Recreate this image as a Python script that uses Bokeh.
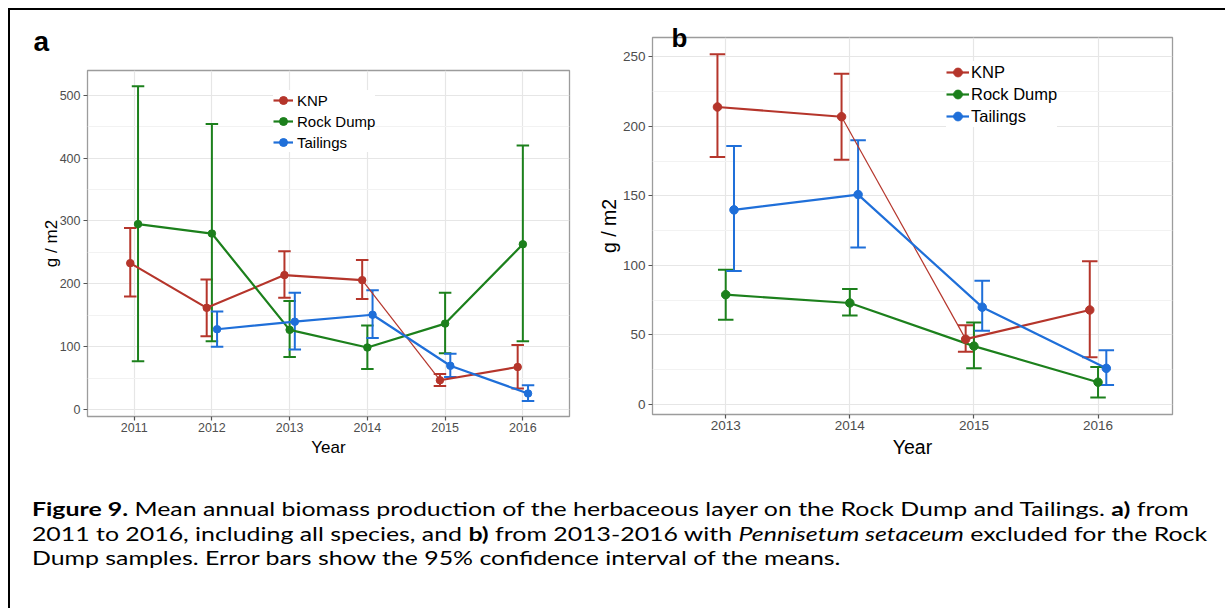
from bokeh.plotting import figure
from bokeh.models import (ColumnDataSource, Whisker, TeeHead, FixedTicker, Legend,
                          LegendItem, Div, Range1d, Spacer)
from bokeh.layouts import row, column
from bokeh.embed import file_html
from bokeh.resources import INLINE

# ---------------- data: panel a (2011-2016, all species) ----------------
series_names = ["KNP", "Rock Dump", "Tailings"]

knp_a_years = [2011, 2012, 2013, 2014, 2015, 2016]
knp_a_mean = [233, 162, 214, 206, 47, 68]
knp_a_lo = [180, 117, 178, 176, 38, 34]
knp_a_hi = [289, 207, 252, 238, 57, 103]

rock_a_years = [2011, 2012, 2013, 2014, 2015, 2016]
rock_a_mean = [295, 280, 127, 99, 137, 263]
rock_a_lo = [77, 109, 84, 65, 90, 109]
rock_a_hi = [514, 454, 173, 134, 186, 420]

tail_a_years = [2012, 2013, 2014, 2015, 2016]
tail_a_mean = [128, 140, 151, 70, 26]
tail_a_lo = [100, 96, 114, 52, 14]
tail_a_hi = [156, 186, 190, 89, 39]

# ---------------- data: panel b (2013-2016, Pennisetum excluded) ----------------
knp_b_years = [2013, 2014, 2015, 2016]
knp_b_mean = [214, 207, 47, 68]
knp_b_lo = [178, 176, 38, 34]
knp_b_hi = [252, 238, 57, 103]

rock_b_years = [2013, 2014, 2015, 2016]
rock_b_mean = [79, 73, 42, 16]
rock_b_lo = [61, 64, 26, 5]
rock_b_hi = [97, 83, 59, 27]

tail_b_years = [2013, 2014, 2015, 2016]
tail_b_mean = [140, 151, 70, 26]
tail_b_lo = [96, 113, 53, 14]
tail_b_hi = [186, 190, 89, 39]

ticks_a_x = [2011, 2012, 2013, 2014, 2015, 2016]
ticks_a_y = [0, 100, 200, 300, 400, 500]
minor_a_y = [50, 150, 250, 350, 450]
ticks_b_x = [2013, 2014, 2015, 2016]
ticks_b_y = [0, 50, 100, 150, 200, 250]
minor_b_y = [25, 75, 125, 175, 225]

caption_html = ("<b>Figure 9.</b> Mean annual biomass production of the herbaceous layer on the "
                "Rock Dump and Tailings. <b>a)</b> from<br>2011 to 2016, including all species, and "
                "<b>b)</b> from 2013-2016 with <i>Pennisetum setaceum</i> excluded for the Rock<br>"
                "Dump samples. Error bars show the 95% confidence interval of the means.")

COLORS = ["#b5352b", "#1c801c", "#1f6fd9"]
FONT = "Liberation Sans"


def dodge(groups_years, width=0.2):
    out = []
    for gi, ys in enumerate(groups_years):
        xs = []
        for y in ys:
            present = [g for g, yy in enumerate(groups_years) if y in yy]
            n = len(present)
            i = present.index(gi)
            xs.append(y - width / 2 + width / (2 * n) + i * width / n)
        out.append(xs)
    return out


def make_panel(data, xr, yr, xt, yt, ymin, w, h, mb, fs, cap, psize, leg, tag, ylab_standoff):
    p = figure(width=w, height=h, output_backend="svg", toolbar_location=None,
               x_range=Range1d(*xr), y_range=Range1d(*yr),
               min_border_left=mb[0], min_border_right=mb[1],
               min_border_top=mb[2], min_border_bottom=mb[3])
    p.background_fill_color = "white"
    p.border_fill_color = "white"
    p.outline_line_color = "#9c9c9c"
    p.outline_line_width = 1.3

    p.xaxis.ticker = FixedTicker(ticks=xt)
    p.yaxis.ticker = FixedTicker(ticks=yt, minor_ticks=ymin)
    for ax in (p.xaxis[0], p.yaxis[0]):
        ax.axis_line_color = None
        ax.major_tick_line_color = "#555555"
        ax.major_tick_line_width = 1.2
        ax.major_tick_in = 0
        ax.major_tick_out = 4
        ax.minor_tick_line_color = None
        ax.major_label_text_font = FONT
        ax.major_label_text_font_size = fs[0]
        ax.major_label_text_color = "#4d4d4d"
        ax.axis_label_text_font = FONT
        ax.axis_label_text_font_style = "normal"
        ax.axis_label_text_font_size = fs[1]
        ax.axis_label_text_color = "black"
        ax.major_label_standoff = 3
    p.xaxis.axis_label = "Year"
    p.yaxis.axis_label = "g / m2"
    p.xaxis.major_label_standoff = 2
    p.xaxis.axis_label_standoff = 3
    try:
        p.yaxis.axis_label_standoff = ylab_standoff
    except Exception:
        p.yaxis.axis_label_standoff = 0

    p.xgrid.grid_line_color = "#e6e6e6"
    p.xgrid.grid_line_width = 1.2
    p.ygrid.grid_line_color = "#e6e6e6"
    p.ygrid.grid_line_width = 1.2
    p.ygrid.minor_grid_line_color = "#f2f2f2"
    p.ygrid.minor_grid_line_width = 1.0

    xs_all = dodge([d[0] for d in data])
    for k, d in enumerate(data):
        src = ColumnDataSource(dict(x=xs_all[k], lo=d[2], hi=d[3]))
        wh = Whisker(base="x", lower="lo", upper="hi", source=src,
                     line_color=COLORS[k], line_width=2,
                     upper_head=TeeHead(size=cap, line_color=COLORS[k], line_width=2),
                     lower_head=TeeHead(size=cap, line_color=COLORS[k], line_width=2))
        p.add_layout(wh)
    line_rs = []
    for k, d in enumerate(data):
        xs = xs_all[k]
        ys = d[1]
        if k == 0 and 2014 in d[0] and 2015 in d[0]:
            j = d[0].index(2014)
            r = p.line(xs[:j + 1], ys[:j + 1], line_color=COLORS[k], line_width=2.2)
            p.line(xs[j:j + 2], ys[j:j + 2], line_color=COLORS[k], line_width=1.2)
            p.line(xs[j + 1:], ys[j + 1:], line_color=COLORS[k], line_width=2.2)
        else:
            r = p.line(xs, ys, line_color=COLORS[k], line_width=2.2)
        line_rs.append(r)
    pt_rs = []
    for k, d in enumerate(data):
        pr = p.scatter(xs_all[k], d[1], size=psize, color=COLORS[k])
        pt_rs.append(pr)
    items = [LegendItem(label=series_names[k], renderers=[line_rs[k], pt_rs[k]])
             for k in range(len(data))]

    legend = Legend(items=items, location=leg[0], padding=4, margin=0, spacing=leg[1],
                    glyph_width=leg[2], glyph_height=leg[3], label_height=leg[3],
                    label_standoff=leg[4], label_text_font=FONT,
                    label_text_font_size=leg[5], label_text_color="black",
                    background_fill_color="white", background_fill_alpha=1.0,
                    border_line_color=None)
    p.add_layout(legend)

    # panel tag ("a" / "b") as the plot title
    p.title.text = tag[0]
    p.title.align = "left"
    p.title.offset = tag[1]
    p.title.text_font = FONT
    p.title.text_font_style = "bold"
    p.title.text_font_size = tag[3]
    p.title.text_color = "black"
    try:
        p.title.standoff = tag[2]
    except Exception:
        p.title.standoff = 0
    return p


data_a = [(knp_a_years, knp_a_mean, knp_a_lo, knp_a_hi),
          (rock_a_years, rock_a_mean, rock_a_lo, rock_a_hi),
          (tail_a_years, tail_a_mean, tail_a_lo, tail_a_hi)]
data_b = [(knp_b_years, knp_b_mean, knp_b_lo, knp_b_hi),
          (rock_b_years, rock_b_mean, rock_b_lo, rock_b_hi),
          (tail_b_years, tail_b_mean, tail_b_lo, tail_b_hi)]

pa = make_panel(data_a, (2010.4, 2016.6), (-10.6, 539), ticks_a_x, ticks_a_y, minor_a_y,
                584, 460, (77, 25, 60, 54), ("12.5px", "17px"), 12.5, 7.5,
                ((186, 264), 1, 20, 20, 4, "15px"), ("a", -54, 27, "28px"), -4)
pb = make_panel(data_b, (2012.41, 2016.6), (-7.2, 264), ticks_b_x, ticks_b_y, minor_b_y,
                631, 460, (55, 53, 27, 56), ("13.5px", "19.5px"), 15.5, 8.5,
                ((294, 287), 0, 23, 22, 2, "16.5px"), ("b", 19, -30, "26px"), 0)

cap = Div(text='<div style="font-family: Lato; font-size: 18.5px; line-height: 24.7px; '
               'color: black; white-space: nowrap; padding-top: 22px; padding-left: 12.6px; '
               'transform: scale(1.345, 1); transform-origin: 0 0;">'
               + caption_html + '</div>',
          width=1200, height=128)

framed = column(row(column(pa), column(pb)), cap,
                styles={"border-top": "2px solid black", "border-left": "2px solid black",
                        "background": "white"})
layout = column(Spacer(height=8), row(Spacer(width=8), framed))

open("out.html", "w").write(file_html(layout, INLINE))
